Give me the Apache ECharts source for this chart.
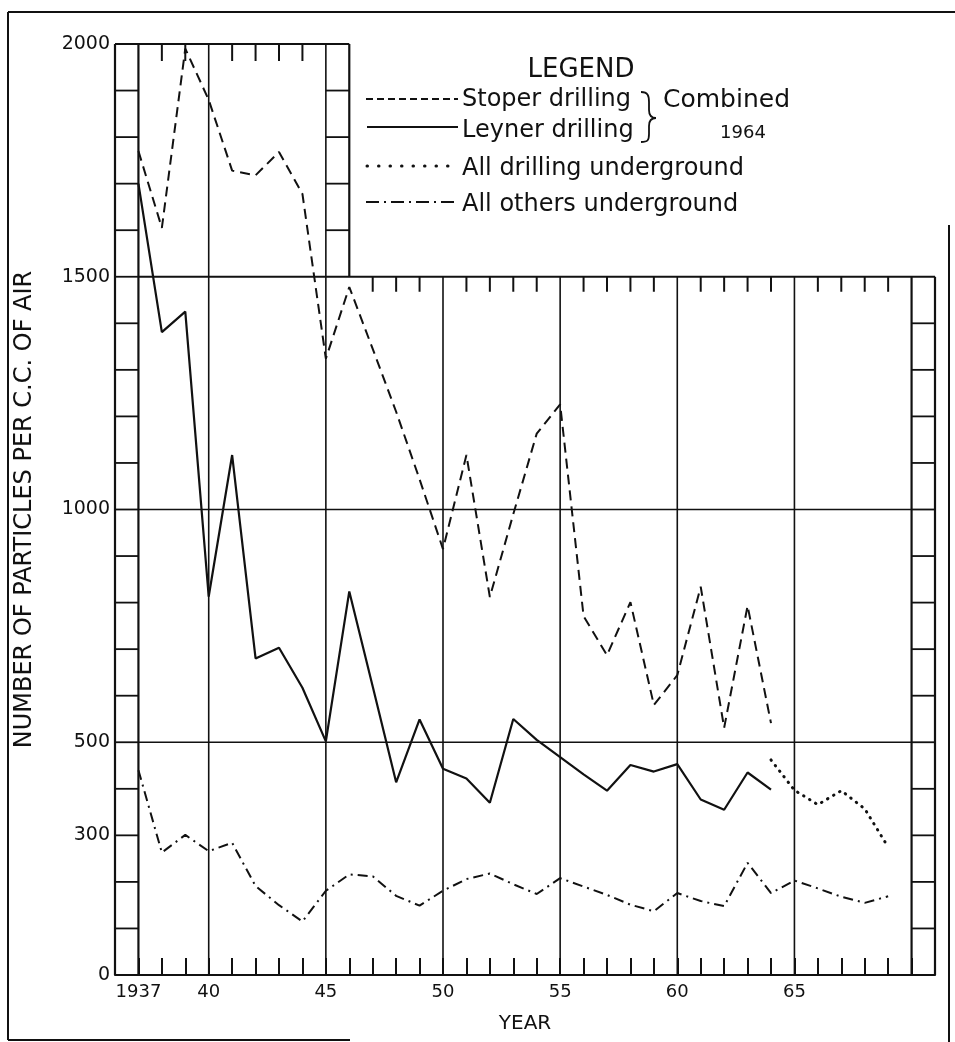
<!DOCTYPE html>
<html>
<head>
<meta charset="utf-8">
<script src="https://cdn.jsdelivr.net/npm/echarts@6/dist/echarts.min.js"></script>
<style>
  html, body { margin: 0; padding: 0; background: #ffffff; }
  #chart { width: 955px; height: 1042px; }
</style>
</head>
<body>
<div id="chart"></div>
<script>
// ---------------- data ----------------
const stoperYears = [1937,1938,1939,1940,1941,1942,1943,1944,1945,1946,1947,1948,1949,1950,1951,1952,1953,1954,1955,1956,1957,1958,1959,1960,1961,1962,1963,1964];
const stoperValues = [1770,1605,1990,1880,1728,1718,1768,1678,1324,1478,1345,1210,1065,915,1117,812,990,1163,1226,771,687,801,580,644,834,531,793,541];

const leynerYears = [1937,1938,1939,1940,1941,1942,1943,1944,1945,1946,1947,1948,1949,1950,1951,1952,1953,1954,1955,1956,1957,1958,1959,1960,1961,1962,1963,1964];
const leynerValues = [1700,1381,1425,813,1117,680,703,617,502,824,620,414,549,443,422,370,550,505,468,431,396,451,437,453,377,355,435,398];

const allDrillingYears = [1964,1965,1966,1967,1968,1969];
const allDrillingValues = [462,397,366,396,357,275];

const othersYears = [1937,1938,1939,1940,1941,1942,1943,1944,1945,1946,1947,1948,1949,1950,1951,1952,1953,1954,1955,1956,1957,1958,1959,1960,1961,1962,1963,1964,1965,1966,1967,1968,1969];
const othersValues = [440,263,301,266,284,191,150,115,181,216,212,170,149,181,206,218,195,174,208,190,172,151,137,176,159,148,241,176,203,186,168,155,169];

const xTickYears  = [1937, 1940, 1945, 1950, 1955, 1960, 1965];
const xTickLabels = ['1937', '40', '45', '50', '55', '60', '65'];
const yTickValues = [0, 300, 500, 1000, 1500, 2000];

const seriesNames = ['Stoper drilling', 'Leyner drilling', 'All drilling underground', 'All others underground'];

// ---------------- helpers ----------------
const INK = '#111111';
const FONT = '"DejaVu Sans", "Noto Sans", sans-serif';
const zip = (xs, ys) => xs.map((x, i) => [x, ys[i]]);

function renderFrame(params, api) {
  const kids = [];
  const seg = (x1, y1, x2, y2, w) => {
    const a = api.coord([x1, y1]);
    const b = api.coord([x2, y2]);
    kids.push({ type: 'line', shape: { x1: a[0], y1: a[1], x2: b[0], y2: b[1] },
                style: { stroke: INK, lineWidth: w || 2 } });
  };
  const tickDown = (x, y, len) => {
    const a = api.coord([x, y]);
    kids.push({ type: 'line', shape: { x1: a[0], y1: a[1], x2: a[0], y2: a[1] + len },
                style: { stroke: INK, lineWidth: 2 } });
  };
  // left ruler
  seg(1936, 0, 1936, 2000, 2.2);
  seg(1937, 0, 1937, 2000, 2.2);
  for (let v = 100; v < 2000; v += 100) seg(1936, v, 1937, v, 1.8);
  // top border of upper box
  seg(1936, 2000, 1946, 2000, 2);
  // upper right ruler
  seg(1946, 1500, 1946, 2000, 2.2);
  for (let v = 1600; v < 2000; v += 100) seg(1945, v, 1946, v, 1.8);
  // top border of lower box (1500 line)
  seg(1937, 1500, 1971, 1500, 2);
  // right ruler
  seg(1970, 0, 1970, 1500, 2.2);
  seg(1971, 0, 1971, 1500, 2.2);
  for (let v = 100; v < 1500; v += 100) seg(1970, v, 1971, v, 1.8);
  // grid lines
  seg(1937, 500, 1970, 500, 1.6);
  seg(1937, 1000, 1970, 1000, 1.6);
  [1940, 1945].forEach(yr => seg(yr, 0, yr, 2000, 1.6));
  [1950, 1955, 1960, 1965].forEach(yr => seg(yr, 0, yr, 1500, 1.6));
  // year ticks hanging from the top borders
  for (let yr = 1938; yr < 1945; yr++) if (yr % 5 !== 0) tickDown(yr, 2000, 17);
  for (let yr = 1947; yr < 1970; yr++) if (yr % 5 !== 0) tickDown(yr, 1500, 15);
  return { type: 'group', children: kids };
}

const chart = echarts.init(document.getElementById('chart'), null, { renderer: 'canvas' });

const lineEl = (x1, y1, x2, y2, style) => ({ type: 'line', shape: { x1, y1, x2, y2 }, style: Object.assign({ stroke: INK, lineWidth: 2 }, style || {}) });
const curveEl = (x1, y1, cpx1, cpy1, cpx2, cpy2, x2, y2) => ({ type: 'bezierCurve', shape: { x1, y1, cpx1, cpy1, cpx2, cpy2, x2, y2 }, style: { stroke: INK, lineWidth: 1.8, fill: null } });
const textEl = (x, y, text, size, align) => ({ type: 'text', x, y, style: { text, fontSize: size, fontFamily: FONT, fill: INK, align: align || 'left', verticalAlign: 'middle' } });

const legendGraphics = [
  textEl(581, 70, 'LEGEND', 26, 'center'),
  lineEl(366, 99, 458, 99, { lineWidth: 1.8, lineDash: [7, 4] }),
  lineEl(367, 127, 458, 127, { lineWidth: 2 }),
  lineEl(367, 166, 458, 166, { lineWidth: 3, lineCap: 'round', lineDash: [0.5, 11] }),
  lineEl(366, 202, 458, 202, { lineWidth: 1.8, lineDash: [13, 5, 2, 5] }),
  textEl(462, 100, seriesNames[0], 24),
  textEl(462, 131, seriesNames[1], 24),
  textEl(462, 169, seriesNames[2], 24),
  textEl(462, 205, seriesNames[3], 24),
  // brace
  curveEl(641, 92, 648, 92, 649, 96, 649, 102),
  lineEl(649, 102, 649, 110, { lineWidth: 1.8 }),
  curveEl(649, 110, 649, 115, 651, 118, 656, 118),
  curveEl(656, 118, 651, 118, 649, 121, 649, 126),
  lineEl(649, 126, 649, 134, { lineWidth: 1.8 }),
  curveEl(649, 134, 649, 140, 648, 142, 641, 142),
  textEl(663, 100, 'Combined', 25),
  textEl(743, 133, '1964', 18, 'center'),
  // outer page frame
  lineEl(8, 12, 955, 12),
  lineEl(8, 12, 8, 1040),
  lineEl(8, 1040, 350, 1040),
  lineEl(949, 225, 949, 1042)
];

const option = {
  animation: false,
  backgroundColor: '#ffffff',
  textStyle: { fontFamily: FONT, color: INK },
  grid: { left: 115, right: 20, top: 44, bottom: 67, containLabel: false },
  xAxis: {
    type: 'value',
    min: 1936, max: 1971, interval: 1,
    name: 'YEAR', nameLocation: 'middle', nameGap: 39,
    nameTextStyle: { fontSize: 20, color: INK, fontFamily: FONT },
    axisLine: { show: true, lineStyle: { color: INK, width: 2.2 } },
    axisTick: { show: true, inside: true, length: 17, lineStyle: { color: INK, width: 2 } },
    axisLabel: {
      margin: 8, fontSize: 18, color: INK, fontFamily: FONT,
      formatter: v => { const i = xTickYears.indexOf(Math.round(v)); return i >= 0 ? xTickLabels[i] : ''; }
    },
    splitLine: { show: false }
  },
  yAxis: {
    type: 'value',
    min: 0, max: 2000, interval: 100,
    name: 'NUMBER OF PARTICLES PER C.C. OF AIR', nameLocation: 'middle', nameGap: 78,
    nameTextStyle: { fontSize: 24, color: INK, fontFamily: FONT },
    axisLine: { show: false },
    axisTick: { show: false },
    axisLabel: {
      margin: 5, fontSize: 19, color: INK, fontFamily: FONT,
      formatter: v => yTickValues.indexOf(Math.round(v)) >= 0 ? String(Math.round(v)) : ''
    },
    splitLine: { show: false }
  },
  graphic: legendGraphics,
  series: [
    { name: 'frame', type: 'custom', renderItem: renderFrame, data: [[1936, 0]], silent: true, z: 1 },
    { name: seriesNames[0], type: 'line', data: zip(stoperYears, stoperValues), showSymbol: false, symbol: 'none', z: 3,
      lineStyle: { color: INK, width: 2, type: [10, 6] } },
    { name: seriesNames[1], type: 'line', data: zip(leynerYears, leynerValues), showSymbol: false, symbol: 'none', z: 3,
      lineStyle: { color: INK, width: 2.2 } },
    { name: seriesNames[2], type: 'line', data: zip(allDrillingYears, allDrillingValues), showSymbol: false, symbol: 'none', z: 3,
      lineStyle: { color: INK, width: 3, type: [0.5, 6.5], cap: 'round' } },
    { name: seriesNames[3], type: 'line', data: zip(othersYears, othersValues), showSymbol: false, symbol: 'none', z: 3,
      lineStyle: { color: INK, width: 2, type: [10, 5, 2, 5] } }
  ]
};

chart.setOption(option);
</script>
</body>
</html>
